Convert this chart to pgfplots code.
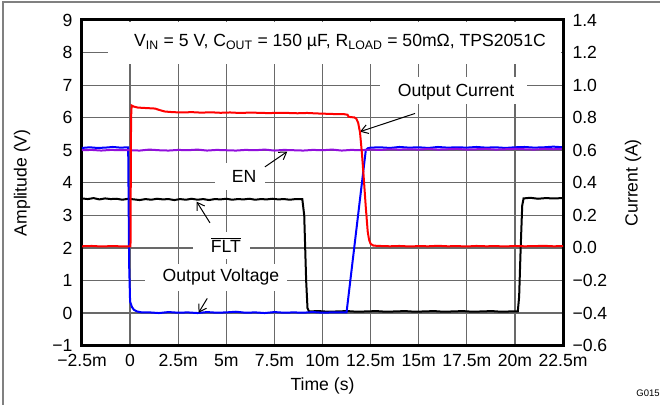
\documentclass[border=0pt]{standalone}
\usepackage{fontspec}
\setmainfont{Liberation Sans}
\usepackage{pgfplots}
\pgfplotsset{compat=1.18}
\usetikzlibrary{arrows.meta}
\definecolor{cred}{RGB}{255,0,0}
\definecolor{cblue}{RGB}{0,0,255}
\definecolor{cpurple}{RGB}{145,15,220}
\definecolor{cgrid}{RGB}{105,105,105}
\begin{document}
\begin{tikzpicture}[font=\fontsize{17.6}{20}\selectfont]
\begin{axis}[
  scale only axis, width=481pt, height=325.6pt,
  xmin=-2.5, xmax=22.5, ymin=-1, ymax=9,
  xtick={-2.5,0,2.5,5,7.5,10,12.5,15,17.5,20,22.5},
  xticklabels={−2.5m,0,2.5m,5m,7.5m,10m,12.5m,15m,17.5m,20m,22.5m},
  ytick={-1,0,1,2,3,4,5,6,7,8,9},
  yticklabels={−1,0,1,2,3,4,5,6,7,8,9},
  tick style={draw=none},
  grid=major,
  major grid style={cgrid, line width=1.2pt},
  axis line style={line width=3pt},
  xticklabel style={yshift=-5.5pt},
  yticklabel style={xshift=-6pt},
  xlabel={Time (s)},
  ylabel={Amplitude (V)},
  x label style={at={(axis description cs:0.5,-0.1364)}, anchor=base},
  y label style={at={(axis description cs:-0.1247,0.5)}, anchor=center},
  clip=true,
]
% white boxes behind annotations
\fill[white] (axis cs:-1.149,8.95) rectangle (axis cs:22.42,7.65);
\fill[white] (axis cs:12.99,7.249) rectangle (axis cs:20.63,6.42);
\fill[white] (axis cs:4.41,4.61) rectangle (axis cs:7.01,3.78);
\fill[white] (axis cs:3.27,2.49) rectangle (axis cs:6.23,1.66);
\fill[white] (axis cs:0.774,1.506) rectangle (axis cs:8.15,0.677);
% FLT (black)
\addplot[black, line width=2pt] coordinates {
(-2.5,3.52) (-2.2,3.50) (-1.9,3.53) (-1.6,3.49) (-1.3,3.52) (-1.0,3.50) (-0.7,3.51) (-0.4,3.48) (-0.1,3.51)
(0.2,3.49) (0.5,3.47) (0.8,3.50) (1.1,3.48) (1.4,3.51) (1.7,3.49) (2.0,3.50) (2.3,3.47) (2.6,3.50)
(2.9,3.48) (3.2,3.51) (3.5,3.48) (3.8,3.50) (4.1,3.47) (4.4,3.50) (4.7,3.49) (5.0,3.51) (5.3,3.48)
(5.6,3.50) (5.9,3.49) (6.2,3.51) (6.5,3.48) (6.8,3.50) (7.1,3.49) (7.4,3.51) (7.7,3.49) (8.0,3.50)
(8.3,3.48) (8.6,3.50) (8.95,3.50) (9.05,3.0) (9.15,1.0) (9.22,0.15) (9.3,0.05)
(9.8,0.06) (10.3,0.04) (10.8,0.05) (11.3,0.06) (11.8,0.04) (12.3,0.05) (12.8,0.06) (13.3,0.04)
(13.8,0.05) (14.3,0.06) (14.8,0.04) (15.3,0.05) (15.8,0.06) (16.3,0.04) (16.8,0.05) (17.3,0.06)
(17.8,0.04) (18.3,0.05) (18.8,0.06) (19.3,0.04) (19.8,0.05) (20.15,0.05) (20.22,0.5) (20.3,2.0)
(20.38,3.3) (20.45,3.52) (20.8,3.54) (21.2,3.51) (21.6,3.53) (22.0,3.52) (22.5,3.53)
};
% Output voltage (blue)
\addplot[cblue, line width=2pt] coordinates {
(-2.5,5.07) (-2.1,5.09) (-1.7,5.07) (-1.3,5.08) (-0.9,5.10) (-0.5,5.08) (-0.1,5.09) (-0.05,1.5)
(0.0,0.35) (0.1,0.18) (0.2,0.10) (0.35,0.05) (0.6,0.02) (1.0,0.02) (1.5,0.00) (2.0,0.03) (2.5,0.01)
(3.0,0.02) (3.5,0.00) (4.0,0.03) (4.5,0.01) (5.0,0.02) (5.5,0.04) (6.0,0.01) (6.5,0.02) (7.0,0.00)
(7.5,0.03) (8.0,0.01) (8.5,0.02) (9.0,0.01) (9.5,0.03) (10.0,0.01) (10.5,0.02) (11.0,0.02)
(11.25,0.02) (12.25,5.0) (12.35,5.06) (12.5,5.08) (13.0,5.09) (13.5,5.07) (14.0,5.10) (14.5,5.08)
(15.0,5.09) (15.5,5.07) (16.0,5.10) (16.5,5.08) (17.0,5.09) (17.5,5.08) (18.0,5.10) (18.5,5.08)
(19.0,5.09) (19.5,5.07) (20.0,5.09) (20.5,5.10) (21.0,5.08) (21.5,5.09) (22.0,5.11) (22.5,5.09)
};
% EN (purple)
\addplot[cpurple, line width=2pt] coordinates {
(-2.5,5.00) (-2.0,5.01) (-1.5,4.99) (-1.0,5.01) (-0.5,5.00) (0.0,5.00) (0.5,4.99) (1.0,5.02)
(1.5,5.00) (2.0,4.99) (2.5,5.01) (3.0,5.00) (3.5,5.02) (4.0,4.99) (4.5,5.01) (5.0,5.00) (5.5,4.99)
(6.0,5.01) (6.5,5.00) (7.0,5.02) (7.5,4.99) (8.0,5.01) (8.5,5.00) (9.0,4.99) (9.5,5.01) (10.0,5.00)
(10.5,5.02) (11.0,4.99) (11.5,5.01) (12.0,5.00) (12.5,5.02) (13.0,5.01) (13.5,5.03) (14.0,5.02)
(14.5,5.03) (15.0,5.02) (15.5,5.04) (16.0,5.02) (16.5,5.03) (17.0,5.04) (17.5,5.02) (18.0,5.03)
(18.5,5.04) (19.0,5.02) (19.5,5.03) (20.0,5.04) (20.5,5.03) (21.0,5.02) (21.5,5.04) (22.0,5.03) (22.5,5.04)
};
% annotations
\node at (axis cs:10.91,8.32) {V\textsubscript{IN} = 5 V, C\textsubscript{OUT} = 150 µF, R\textsubscript{LOAD} = 50mΩ, TPS2051C};
\node at (axis cs:16.94,6.77) {Output Current};
\node at (axis cs:5.92,4.21) {EN};
\node at (axis cs:4.98,2.09) {$\overline{\mbox{FLT}}$};
\node at (axis cs:4.72,1.107) {Output Voltage};
\draw[black, line width=1pt, -{Straight Barb[length=7pt,width=9pt]}] (axis cs:14.81,6.13) -- (axis cs:11.95,5.57);
\draw[black, line width=1pt, -{Straight Barb[length=7pt,width=9pt]}] (axis cs:7.01,4.49) -- (axis cs:8.17,4.96);
\draw[black, line width=1pt, -{Straight Barb[length=7pt,width=9pt]}] (axis cs:4.15,2.77) -- (axis cs:3.46,3.42);
\draw[black, line width=1pt, -{Straight Barb[length=7pt,width=9pt]}] (axis cs:4.01,0.45) -- (axis cs:3.56,0.01);
\end{axis}
\begin{axis}[
  scale only axis, width=481pt, height=325.6pt,
  xmin=-2.5, xmax=22.5, ymin=-0.6, ymax=1.4,
  axis x line=none, axis y line*=right,
  ytick={-0.6,-0.4,-0.2,0,0.2,0.4,0.6,0.8,1.0,1.2,1.4},
  yticklabels={−0.6,−0.4,−0.2,0.0,0.2,0.4,0.6,0.8,1.0,1.2,1.4},
  tick style={draw=none},
  axis line style={line width=3pt},
  yticklabel style={xshift=6pt},
  ylabel={Current (A)},
  y label style={at={(axis description cs:1.1455,0.5)}, anchor=center},
]
% Output current (red)
\addplot[cred, line width=2pt] coordinates {
(-2.5,0.010) (-2.0,0.012) (-1.5,0.009) (-1.0,0.011) (-0.5,0.010) (0.02,0.010) (0.05,0.80) (0.08,0.875)
(0.2,0.868) (0.4,0.862) (0.7,0.860) (1.0,0.858) (1.3,0.856) (1.5,0.848) (1.8,0.838) (2.2,0.834)
(2.7,0.832) (3.2,0.834) (3.7,0.831) (4.2,0.833) (4.7,0.830) (5.2,0.832) (5.7,0.829) (6.2,0.831)
(6.7,0.830) (7.2,0.828) (7.7,0.830) (8.2,0.829) (8.7,0.827) (9.2,0.829) (9.7,0.826) (10.2,0.824)
(10.7,0.822) (11.1,0.822) (11.3,0.818) (11.35,0.806) (11.5,0.803) (11.65,0.802) (11.75,0.795)
(11.85,0.77) (11.95,0.71) (12.05,0.58) (12.15,0.42) (12.25,0.25) (12.35,0.10) (12.42,0.05)
(12.5,0.025) (12.65,0.014) (13.0,0.012) (13.5,0.010) (14.0,0.012) (14.5,0.009) (15.0,0.011)
(15.5,0.010) (16.0,0.013) (16.5,0.010) (17.0,0.011) (17.5,0.009) (18.0,0.012) (18.5,0.010)
(19.0,0.011) (19.5,0.009) (20.0,0.012) (20.5,0.010) (21.0,0.011) (21.5,0.013) (22.0,0.010) (22.5,0.011)
};
\end{axis}
\pgfresetboundingbox
\path[use as bounding box] (-82pt,-58.4pt) rectangle (578pt,345.6pt);
\draw[gray, line width=2pt] (-78.5pt,-80pt) rectangle (600pt,343.6pt);
\node[font=\fontsize{9.5}{11}\selectfont] at (566pt,-47.9pt) {G015};
\end{tikzpicture}
\end{document}
